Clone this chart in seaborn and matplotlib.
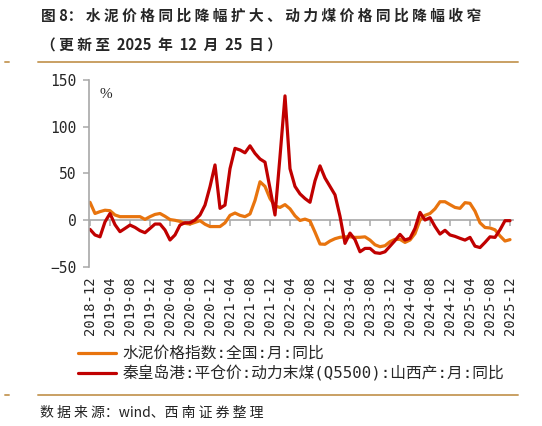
import numpy as np
import pandas as pd
import matplotlib
matplotlib.use("Agg")
import matplotlib.pyplot as plt
from matplotlib.lines import Line2D
import seaborn as sns

# ---------------- data ----------------
months = pd.date_range("2018-12-01", "2025-12-01", freq="MS").strftime("%Y-%m").tolist()

cement = [19, 7, 9, 10.5, 10, 5.4, 3.6, 3.6, 3.6, 3.6, 3.6, 0.7, 3.6, 6, 7, 4, 0.5, -0.3,
          -1.5, -3.6, -4.3, -2.5, -0.7, -4.5, -7, -7, -7, -3, 5, 7.5, 5, 3.6, 6.5, 21, 41,
          36, 23, 15, 13.5, 16.5, 12, 4.5, -0.5, 1, -1, -13, -25.7, -26, -22.5, -20, -18.5,
          -18, -18, -18.6, -18.5, -18, -21.5, -26.5, -28.6, -27.5, -23.2, -20.7, -20.7, -24,
          -21.4, -14.5, 0, 5, 7, 12, 19.6, 19.6, 16.5, 13.5, 12.5, 18.6, 17.9, 9.5, -3, -8,
          -8.5, -10.5, -17, -22.5, -21]

coal = [-10, -16, -18, -2, 7, -5, -12.5, -9, -5.4, -7.9, -11.4, -13.6, -9, -4.3, -4.3, -10.7,
        -21.4, -16, -5.4, -2.9, -2.9, 0, 5.4, 16, 35.7, 59, 12.5, 16, 55, 76.8, 75, 72, 79.5,
        71.4, 65.4, 62, 34, 5.4, 68, 133, 55, 36, 28, 23, 19, 42, 58, 45, 36, 27, 4, -25, -14,
        -21, -34, -30.4, -30.4, -35, -35.7, -34, -28, -22, -15.4, -21.4, -19.6, -9, 8.2, 0,
        2.5, -7, -15, -11, -16, -17.5, -19.6, -21.5, -18.6, -28, -29.5, -24, -18, -18.6,
        -10.5, -0.7, -0.7]

series_names = ["水泥价格指数:全国:月:同比",
                "秦皇岛港:平仓价:动力末煤(Q5500):山西产:月:同比"]
colors = ["#E8740E", "#C00000"]

tick_idx = list(range(0, len(months), 4))
tick_labels = [months[i] for i in tick_idx]
y_ticks = [-50, 0, 50, 100, 150]

title1 = "图 8： 水 泥 价 格 同 比 降 幅 扩 大 、 动 力 煤 价 格 同 比 降 幅 收 窄"
title2 = "（ 更 新 至  2025  年  12  月  25  日 ）"
source = "数 据 来 源：wind、西 南 证 券 整 理"

# ---------------- frame ----------------
idx = np.arange(len(months))
df = pd.concat([
    pd.DataFrame({"idx": idx, "value": cement, "series": series_names[0]}),
    pd.DataFrame({"idx": idx, "value": coal, "series": series_names[1]}),
])

sns.set_style("white")
plt.rcParams["font.family"] = ["DejaVu Sans Mono", "Noto Sans CJK SC"]

W, H = 542, 426
fig = plt.figure(figsize=(W / 100, H / 100), dpi=100)
ax = fig.add_axes([89 / W, 1 - 266.7 / H, (512.5 - 89) / W, (266.7 - 80) / H])

sns.lineplot(data=df, x="idx", y="value", hue="series", hue_order=series_names,
             palette=colors, linewidth=2.3, ax=ax, legend=True)

ax.set_xlim(-0.2, 84.5)
ax.set_ylim(-50, 150)
ax.set_xlabel("")
ax.set_ylabel("")

gray = "#A8A8A8"
for s in ["top", "right"]:
    ax.spines[s].set_visible(False)
ax.spines["left"].set_color(gray)
ax.spines["left"].set_linewidth(1.2)
ax.spines["bottom"].set_position(("data", 0))
ax.spines["bottom"].set_color(gray)
ax.spines["bottom"].set_linewidth(1.2)
ax.spines["bottom"].set_zorder(1)

ax.set_yticks(y_ticks)
ax.tick_params(axis="y", direction="out", length=4, width=1.1, color=gray,
               labelsize=10.5, pad=5, left=True)
ax.set_xticks(tick_idx)
ax.tick_params(axis="x", direction="out", length=4, width=1.1, color=gray,
               labelbottom=False, bottom=True)

sec = ax.secondary_xaxis(0)
sec.set_xticks(tick_idx)
sec.set_xticklabels(tick_labels, rotation=90, fontsize=10)
sec.tick_params(axis="x", length=0, pad=7)
for s in sec.spines.values():
    s.set_visible(False)

ax.text(0.025, 0.92, "%", transform=ax.transAxes, fontsize=11,
        family="Liberation Serif", ha="left", va="center")

# legend below the chart
handles, labels = ax.get_legend_handles_labels()
ax.get_legend().remove()
fig.legend(handles, labels, loc="upper left", bbox_to_anchor=(78 / W, 1 - 346 / H),
           frameon=False, fontsize=11.3, handlelength=2.45, handletextpad=0.4,
           labelspacing=0.3, borderpad=0, borderaxespad=0)

# title
tfont = ["Noto Sans CJK SC"]
fig.text(41 / W, 1 - 16 / H, title1, fontsize=10.6, fontweight="bold",
         family=tfont, ha="left", va="center")
fig.text(41 / W, 1 - 46 / H, title2, fontsize=10.6, fontweight="bold",
         family=tfont, ha="left", va="center")

gold = "#C9A063"
for yy in [62, 395]:
    fig.add_artist(Line2D([38 / W, 518 / W], [1 - yy / H] * 2, transform=fig.transFigure,
                          color=gold, lw=1.4))
    fig.add_artist(Line2D([5 / W, 9 / W], [1 - yy / H] * 2, transform=fig.transFigure,
                          color=gold, lw=1.4))

fig.text(40 / W, 1 - 413 / H, source, fontsize=10, style="italic",
         family=["Noto Sans CJK SC", "DejaVu Sans"], ha="left", va="center", color="#222222")

fig.savefig("out.png", dpi=100)
